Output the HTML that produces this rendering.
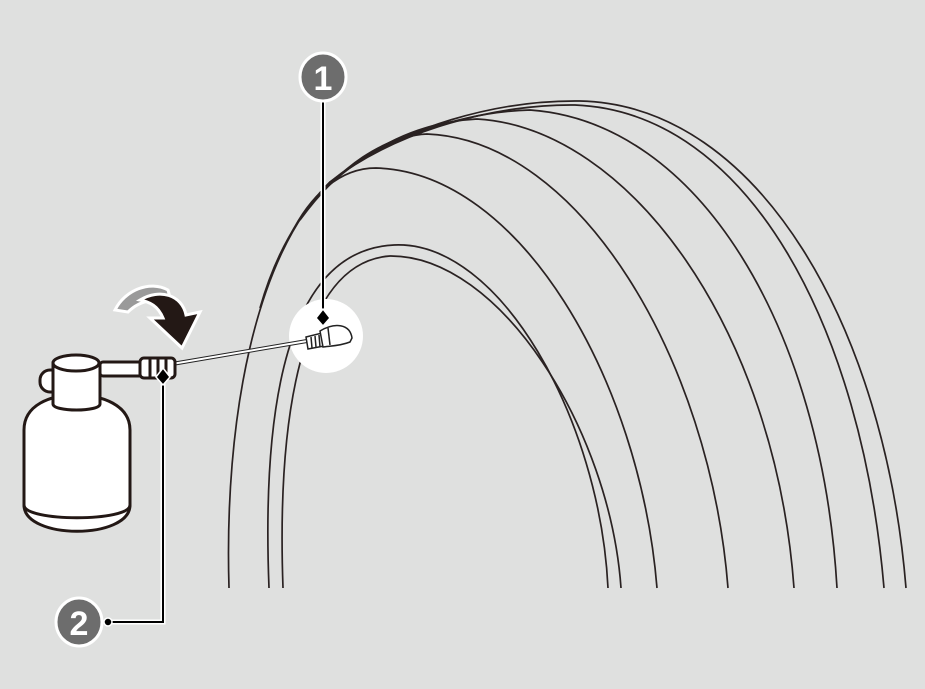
<!DOCTYPE html>
<html><head><meta charset="utf-8"><style>
html,body{margin:0;padding:0;background:#dfe0df;}
svg{display:block}
</style></head><body>
<svg width="925" height="689" viewBox="0 0 925 689" xmlns="http://www.w3.org/2000/svg">
<rect width="925" height="689" fill="#dfe0df"/>
<g fill="none" stroke="#2a2222" stroke-width="1.7">
<path d="M229,588 C224,420 255,255 330,182 C400,125 500,100 580,101 C760,105 885,330 906,588"/>
<path d="M260,308 C275,255 298,215 330,182 C400,128 500,104 575,105 C750,112 862,330 884,588"/>
<path d="M309,207 C350,150 450,112 530,110 C700,122 822,330 837,588"/>
<path d="M320,194 C370,145 420,122 477,119 C630,128 775,330 794,588"/>
<path d="M300,220 C340,165 385,136 427,134 C580,140 710,360 728,588"/>
<path d="M290,236 C310,195 340,168 376,168 C520,172 640,380 657,588"/>
<path d="M269,588 C262,410 285,250 394,245 C500,240 600,420 608,588"/>
<path d="M283,588 C277,420 300,262 390,256 C500,255 610,430 621,588"/>
</g>
<circle cx="326" cy="336" r="37" fill="#fff"/>
<line x1="172" y1="364" x2="307" y2="341" stroke="#222" stroke-width="4"/>
<line x1="172" y1="364" x2="307" y2="341" stroke="#fff" stroke-width="2"/>
<g stroke="#222" stroke-width="1.5" fill="#fff">
<path d="M306,337 L322,333 L324,346 L308,349 Z"/>
<path d="M320,331 C335,322 350,324 352,338 L350,342 C340,346 330,346 323,347 Z"/>
<line x1="311" y1="337" x2="312" y2="348"/><line x1="315" y1="336" x2="316" y2="347"/><line x1="319" y1="335" x2="320" y2="347"/><line x1="328" y1="328" x2="330" y2="345"/>
</g>
<path d="M115,310 C125,290 150,280 168,290 L172,305 C160,296 140,300 128,312 Z" fill="#9a9a9a" stroke="#fff" stroke-width="3"/>
<path d="M140,300 C160,288 182,295 186,315 L200,312 L182,348 L150,318 L163,318 C158,306 150,302 140,300 Z" fill="#231815" stroke="#fff" stroke-width="3"/>
<g stroke="#231815" stroke-width="3" fill="#fff">
<rect x="100" y="362" width="45" height="14" rx="3"/>
<rect x="140" y="358" width="35" height="20" rx="4"/>
<line x1="150" y1="358" x2="150" y2="378"/><line x1="158" y1="358" x2="158" y2="378"/><line x1="166" y1="358" x2="166" y2="378"/>
<rect x="40" y="370" width="25" height="22" rx="10"/>
<path d="M24,505 L24,430 C24,405 50,395 76,395 C102,395 130,405 130,430 L130,505 C130,540 24,540 24,505 Z"/>
<path d="M24,505 C24,522 130,522 130,505" fill="none"/>
<path d="M53,363 L53,404 C53,412 100,412 100,404 L100,363 Z"/>
<ellipse cx="76" cy="363" rx="23" ry="8"/>
</g>
<g>
<line x1="323" y1="98" x2="323" y2="316" stroke="#fff" stroke-width="5"/>
<line x1="323" y1="98" x2="323" y2="316" stroke="#000" stroke-width="2"/>
<circle cx="323" cy="97" r="4" fill="#000" stroke="#fff" stroke-width="1.5"/>
<path d="M323,309 L330,318 L323,326 L316,318 Z" fill="#000" stroke="#fff" stroke-width="1.5"/>
<ellipse cx="323" cy="77" rx="23" ry="24" fill="#6d6d6d" stroke="#fff" stroke-width="3"/>
<text x="323" y="90" font-family="Liberation Sans, sans-serif" font-size="34" font-weight="bold" fill="#fff" text-anchor="middle">1</text>
</g>
<g>
<polyline points="108,622 163,622 163,377" fill="none" stroke="#fff" stroke-width="5"/>
<polyline points="108,622 163,622 163,377" fill="none" stroke="#000" stroke-width="2"/>
<circle cx="108" cy="622" r="4" fill="#000" stroke="#fff" stroke-width="1.5"/>
<path d="M163,368 L170,377 L163,385 L156,377 Z" fill="#000" stroke="#fff" stroke-width="1.5"/>
<ellipse cx="79" cy="622" rx="23" ry="24" fill="#6d6d6d" stroke="#fff" stroke-width="3"/>
<text x="79" y="635" font-family="Liberation Sans, sans-serif" font-size="34" font-weight="bold" fill="#fff" text-anchor="middle">2</text>
</g>
</svg>
</body></html>
